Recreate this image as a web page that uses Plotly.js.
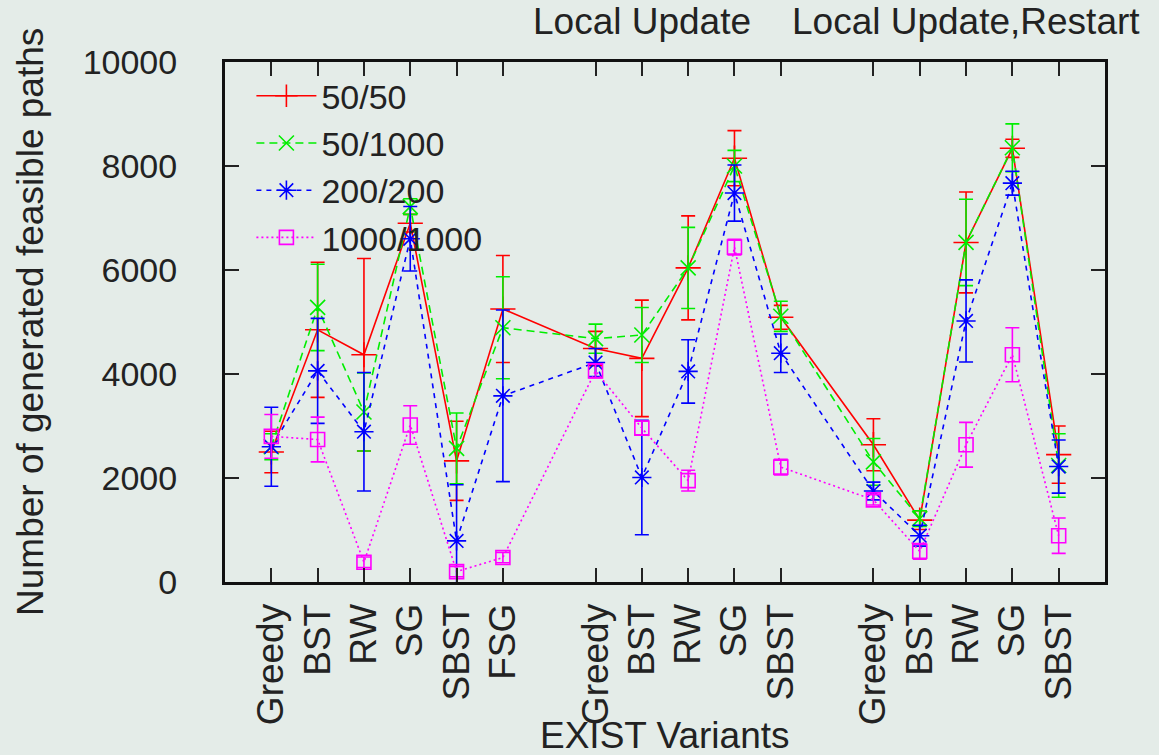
<!DOCTYPE html>
<html>
<head>
<meta charset="utf-8">
<script src="https://cdn.plot.ly/plotly-3.0.1.min.js"></script>
<style>
html,body{margin:0;padding:0;background:#e4ece8;}
#chart{width:1159px;height:755px;}
</style>
</head>
<body>
<div id="chart"></div>
<script>
// Category positions (gaps between the three groups) and tick labels
var positions = [1, 2, 3, 4, 5, 6, 8, 9, 10, 11, 12, 14, 15, 16, 17, 18];
var tickLabels = ["Greedy", "BST", "RW", "SG", "SBST", "FSG",
                  "Greedy", "BST", "RW", "SG", "SBST",
                  "Greedy", "BST", "RW", "SG", "SBST"];
var seriesNames = ["50/50", "50/1000", "200/200", "1000/1000"];
var groupLabels = ["Local Update", "Local Update,Restart"];
var groupLabelPos = [9, 16];

// 50/50
var v5050 = [2500, 4850, 4370, 6900, 2330, 5250, 4490, 4300, 6040, 8150, 5090, 2640, 1190, 6530, 8340, 2450];
var e5050 = [400, 1300, 1850, 170, 760, 1030, 330, 1120, 1000, 530, 230, 500, 180, 970, 175, 550];
// 50/1000
var v501000 = [2600, 5280, 3270, 7220, 2570, 4890, 4680, 4750, 6040, 8000, 5110, 2310, 1220, 6530, 8350, 2240];
var e501000 = [250, 830, 750, 150, 680, 980, 280, 530, 780, 300, 290, 450, 150, 830, 460, 610];
// 200/200
var v200200 = [2600, 4060, 2890, 6600, 790, 3580, 4220, 2010, 4050, 7480, 4400, 1750, 890, 5020, 7670, 2220];
var e200200 = [760, 1010, 1140, 620, 1080, 1650, 270, 1100, 610, 540, 370, 170, 200, 790, 230, 510];
// 1000/1000
var v10001000 = [2800, 2740, 380, 3020, 200, 470, 4060, 2960, 1950, 6440, 2210, 1580, 590, 2640, 4370, 890];
var e10001000 = [420, 430, 100, 370, 100, 100, 130, 130, 200, 150, 150, 100, 150, 430, 520, 340];

var yTicks = [0, 2000, 4000, 6000, 8000, 10000];
var yTickText = ["0", "2000", "4000", "6000", "8000", "10000"];

var FONT = "Liberation Sans, Arial, Helvetica, sans-serif";
var TXT = "#222222";
var FS = 37;

function mk(name, vals, errs, color, dash, symbol, msize) {
  return {
    type: "scatter", mode: "lines+markers", name: name,
    x: positions, y: vals,
    line: {color: color, width: 1.6, dash: dash},
    marker: {symbol: symbol, size: msize, color: color, line: {color: color, width: 1.6}},
    error_y: {type: "data", array: errs, visible: true, color: color, thickness: 1.6, width: 7}
  };
}

var data = [
  mk(seriesNames[0], v5050, e5050, "#ff0000", "solid", "cross-thin", 18),
  mk(seriesNames[1], v501000, e501000, "#00ee00", "8px,5px", "x-thin", 15),
  mk(seriesNames[2], v200200, e200200, "#0000ff", "5px,5px", "asterisk-open", 16),
  mk(seriesNames[3], v10001000, e10001000, "#ff00ff", "2px,3px", "square-open", 14)
];

var annotations = [
  {text: "Number of generated feasible paths", xref: "paper", yref: "paper",
   x: -0.2216, y: 0.5, xanchor: "center", yanchor: "middle", textangle: -90,
   showarrow: false, font: {family: FONT, size: FS, color: TXT}},
  {text: "EXIST Variants", xref: "paper", yref: "paper",
   x: 0.5, y: -0.296, xanchor: "center", yanchor: "middle",
   showarrow: false, font: {family: FONT, size: FS, color: TXT}}
];
for (var i = 0; i < groupLabels.length; i++) {
  annotations.push({text: groupLabels[i], xref: "x", yref: "paper",
    x: groupLabelPos[i], y: 1.077, xanchor: "center", yanchor: "middle",
    showarrow: false, font: {family: FONT, size: FS, color: TXT}});
}

var layout = {
  width: 1159, height: 755,
  margin: {l: 225, r: 54, t: 62, b: 173, pad: 0},
  paper_bgcolor: "#e4ece8", plot_bgcolor: "#e4ece8",
  font: {family: FONT, size: FS, color: TXT},
  showlegend: true,
  legend: {x: 0.03, y: 0.99, xanchor: "left", yanchor: "top",
    bgcolor: "rgba(0,0,0,0)", font: {family: FONT, size: 34, color: TXT},
    itemwidth: 60, tracegroupgap: 0},
  xaxis: {
    range: [0, 19], tickmode: "array", tickvals: positions, ticktext: tickLabels,
    tickangle: -90, ticks: "inside", ticklen: 14, tickwidth: 2, tickcolor: "#222",
    showline: true, linewidth: 3, linecolor: "#111", mirror: "ticks",
    showgrid: false, zeroline: false, ticklabelstandoff: 4,
    tickfont: {family: FONT, size: FS, color: TXT}
  },
  yaxis: {
    range: [0, 10000], tickmode: "array", tickvals: yTicks, ticktext: yTickText,
    ticks: "inside", ticklen: 14, tickwidth: 2, tickcolor: "#222",
    showline: true, linewidth: 3, linecolor: "#111", mirror: "ticks",
    showgrid: false, zeroline: false, ticklabelstandoff: 38,
    tickfont: {family: FONT, size: 34, color: TXT}
  },
  annotations: annotations
};

Plotly.newPlot("chart", data, layout, {displayModeBar: false, staticPlot: true});
</script>
</body>
</html>
